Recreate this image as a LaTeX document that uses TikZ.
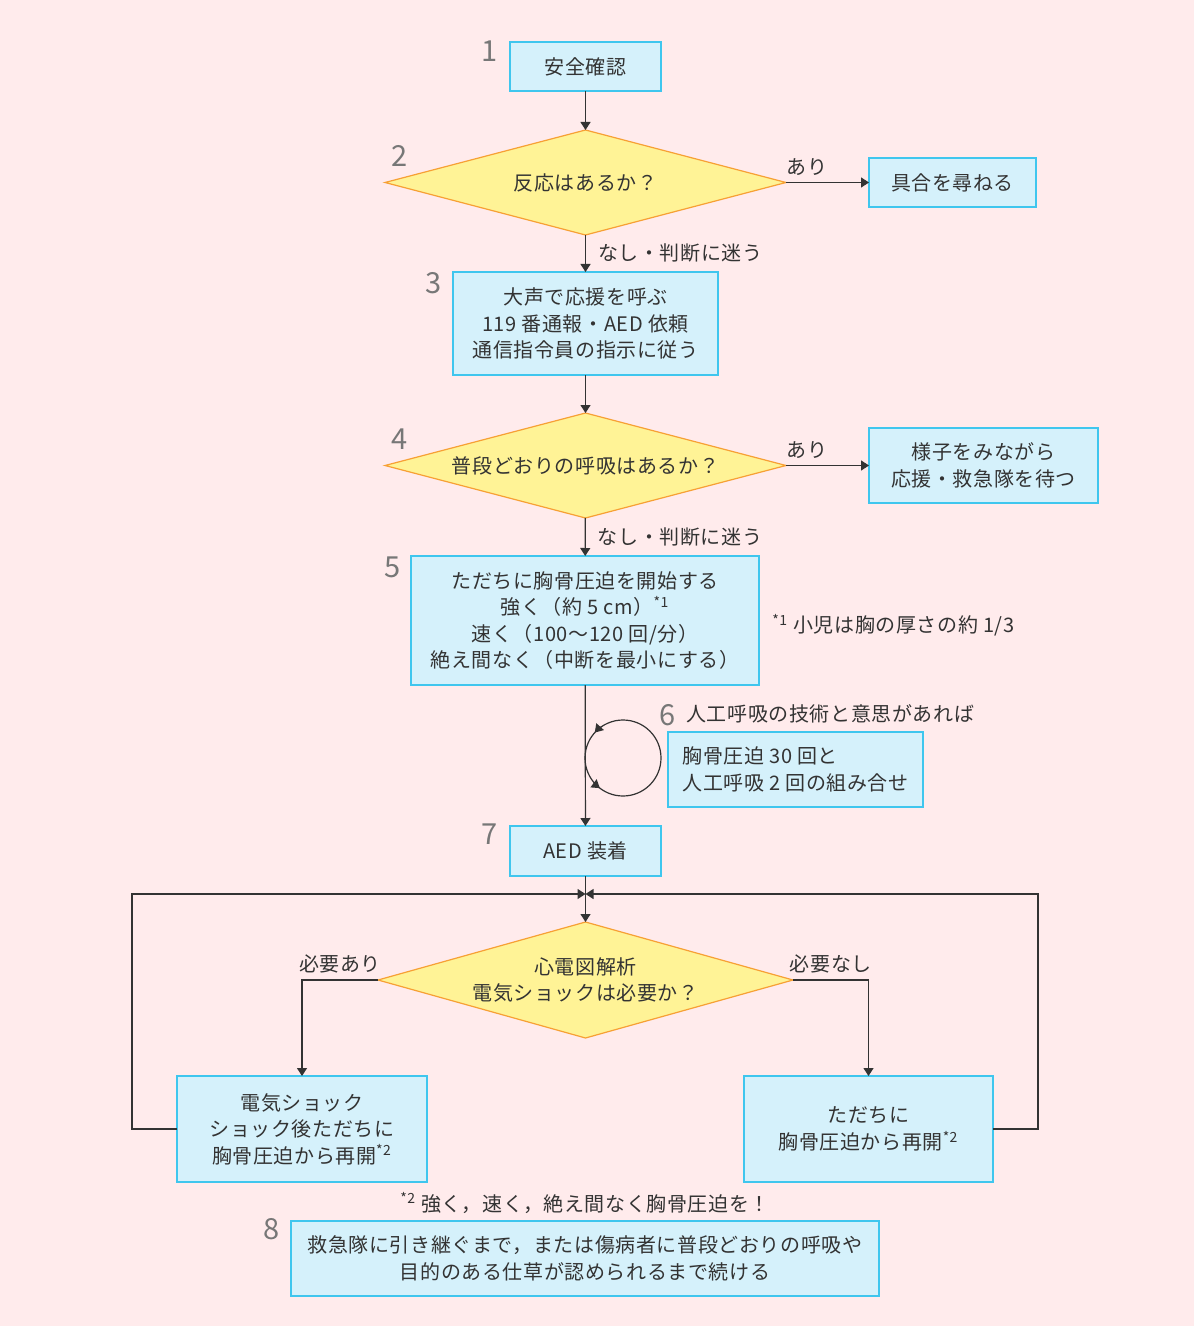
\documentclass[tikz,border=0pt]{standalone}
\usepackage{fontspec}
\setmainfont{Noto Sans CJK JP}[LetterSpace=3]
\usetikzlibrary{shapes.geometric,arrows.meta}
\definecolor{pageBg}{HTML}{FFEBEC}
\definecolor{boxFill}{HTML}{D5F1FB}
\definecolor{boxLine}{HTML}{3FC6EE}
\definecolor{askFill}{HTML}{FFF396}
\definecolor{askLine}{HTML}{F7A035}
\definecolor{inkGray}{HTML}{333333}
\definecolor{numGray}{HTML}{777777}

\begin{document}
\begin{tikzpicture}[x=0.5pt, y=-0.5pt,
  every node/.style={text=inkGray, font=\fontsize{10}{13.3}\selectfont},
  stepbox/.style={draw=boxLine, fill=boxFill, line width=0.7pt, align=center, inner sep=0pt, outer sep=0pt},
  askbox/.style={diamond, draw=askLine, fill=askFill, line width=0.6pt, align=center, inner sep=0pt, outer sep=0pt, aspect=3.8},
  num/.style={text=numGray, font=\fontsize{14.5}{14.5}\selectfont},
  arr/.style={draw=inkGray, line width=0.6pt, -{Triangle[length=4pt,width=5pt]}},
  lin/.style={draw=inkGray, line width=0.6pt}]
 	\fill[pageBg] (0,0) rectangle (1194,1326);
 	\useasboundingbox (0,0) rectangle (1194,1326);
	% steps
 	\node[stepbox, minimum width=75.5pt, minimum height=24.5pt] (safe) at (585.5,66.5) {安全確認};
 	\node[askbox, minimum width=200.5pt, minimum height=52.5pt] (react) at (585.5,182.5) {反応はあるか？};
 	\node[stepbox, minimum width=83.5pt, minimum height=24.5pt] (ask) at (952.5,182.5) {具合を尋ねる};
 	\node[stepbox, minimum width=132.5pt, minimum height=51.5pt] (call) at (585.5,323.5) {大声で応援を呼ぶ\\119 番通報・AED 依頼\\通信指令員の指示に従う};
 	\node[askbox, minimum width=200.5pt, minimum height=52.5pt] (breath) at (585.5,465.5) {普段どおりの呼吸はあるか？};
 	\node[stepbox, minimum width=114.5pt, minimum height=37.5pt] (watch) at (983.5,465.5) {様子をみながら\\応援・救急隊を待つ};
 	\node[stepbox, minimum width=174pt, minimum height=64.5pt] (press) at (585,620.5) {ただちに胸骨圧迫を開始する\\強く（約 5 cm）\textsuperscript{*1}\\速く（100〜120 回/分）\\絶え間なく（中断を最小にする）};
 	\node[stepbox, minimum width=127.5pt, minimum height=37.5pt, align=left] (combo) at (795.5,769.5) {胸骨圧迫 30 回と\\人工呼吸 2 回の組み合せ};
 	\node[stepbox, minimum width=75.5pt, minimum height=25pt] (aed) at (585.5,851) {AED 装着};
 	\node[askbox, minimum width=207.5pt, minimum height=58pt] (ecg) at (585.5,980) {心電図解析\\電気ショックは必要か？};
 	\node[stepbox, minimum width=125pt, minimum height=53pt] (shock) at (302,1129) {電気ショック\\ショック後ただちに\\胸骨圧迫から再開\textsuperscript{*2}};
 	\node[stepbox, minimum width=124.5pt, minimum height=53pt] (resume) at (868.5,1129) {ただちに\\胸骨圧迫から再開\textsuperscript{*2}};
 	\node[stepbox, minimum width=294pt, minimum height=37.5pt] (keep) at (585,1258.5) {救急隊に引き継ぐまで，または傷病者に普段どおりの呼吸や\\目的のある仕草が認められるまで続ける};
	% numbers and notes
	\node[num] (k1) at (490,51) {1};
	\node[num] (k2) at (400,156) {2};
	\node[num] (k3) at (434,283) {3};
	\node[num] (k4) at (400,439) {4};
	\node[num] (k5) at (393,567) {5};
	\node[num] (k6) at (668,715) {6};
	\node[num] (k7) at (490,834) {7};
	\node[num] (k8) at (272,1229) {8};
	\node[anchor=west, inner sep=0pt] (t6) at (686,714) {人工呼吸の技術と意思があれば};
	\node[anchor=west, inner sep=0pt] (fn1) at (772,625) {\textsuperscript{*1} 小児は胸の厚さの約 1/3};
	\node (fn2) at (585,1203) {\textsuperscript{*2} 強く，速く，絶え間なく胸骨圧迫を！};
	% connectors
	\coordinate (mrg) at (585.5,894);
	\coordinate (lft) at (132,894);
	\coordinate (rgt) at (1038,894);
	\coordinate (loop) at (623,758);
	\draw[arr] (safe) -- (react);
	\draw[arr] (react) -- node[above, pos=0.25, inner sep=3pt] (y2) {あり} (ask);
	\draw[arr] (react) -- node[right, inner sep=6pt] (n2) {なし・判断に迷う} (call);
	\draw[arr] (call) -- (breath);
	\draw[arr] (breath) -- node[above, pos=0.25, inner sep=3pt] (y4) {あり} (watch);
	\draw[arr] (breath) -- node[right, inner sep=6pt] (n4) {なし・判断に迷う} (press);
	\draw[arr] (press) -- (aed);
	\draw[lin] (loop) circle (38);
	\draw[arr] ([shift={(235:38)}]loop) arc (235:222:38);
	\draw[arr] ([shift={(140:38)}]loop) arc (140:127.5:38);
	\draw[arr] (aed) -- (ecg);
	\draw[arr] (ecg.west) -| node[above, pos=0.25, inner sep=3pt] (yes8) {必要あり} (shock);
	\draw[arr] (ecg.east) -| node[above, pos=0.25, inner sep=3pt] (no8) {必要なし} (resume);
	\draw[arr] (shock.west) -| (lft) -- (mrg);
	\draw[arr] (resume.east) -| (rgt) -- (mrg);
\end{tikzpicture}
\end{document}
